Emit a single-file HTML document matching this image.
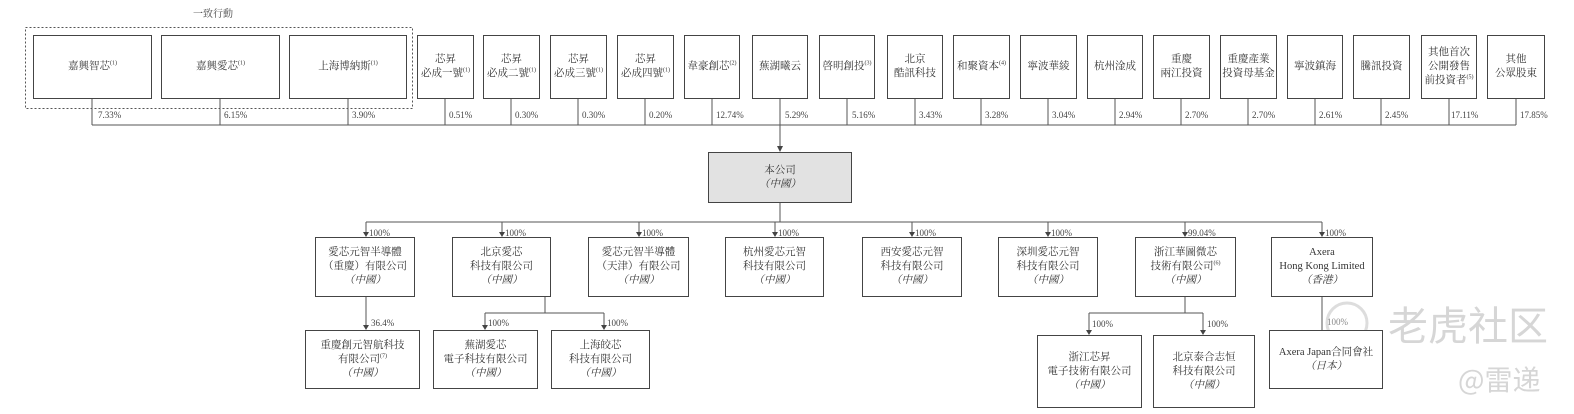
<!DOCTYPE html>
<html><head><meta charset="utf-8"><style>
body{margin:0;background:#fff;}
#c{position:relative;width:1574px;height:414px;overflow:hidden;font-family:"Liberation Serif","Noto Serif CJK SC",serif;color:#333;}
.b{position:absolute;box-sizing:border-box;border:1.4px solid #444;display:flex;align-items:center;justify-content:center;text-align:center;font-size:10.5px;line-height:14px;background:#fff;}
.b>span{display:block;white-space:nowrap;}
.p{position:absolute;font-size:9px;color:#444;white-space:nowrap;}
i{font-style:italic;}
sup{font-size:6px;line-height:0;}
</style></head><body><div id="c">
<svg width="1574" height="414" style="position:absolute;left:0;top:0">
<g stroke="#555" stroke-width="1" fill="none">
<rect x="25.5" y="27.5" width="387" height="81" stroke-dasharray="2,2"/>
<line x1="92" y1="99" x2="92" y2="125"/><line x1="220" y1="99" x2="220" y2="125"/><line x1="348" y1="99" x2="348" y2="125"/>
<line x1="445" y1="99" x2="445" y2="125"/><line x1="511" y1="99" x2="511" y2="125"/><line x1="578" y1="99" x2="578" y2="125"/><line x1="645" y1="99" x2="645" y2="125"/><line x1="712" y1="99" x2="712" y2="125"/>
<line x1="847" y1="99" x2="847" y2="125"/><line x1="915" y1="99" x2="915" y2="125"/><line x1="981" y1="99" x2="981" y2="125"/><line x1="1048" y1="99" x2="1048" y2="125"/><line x1="1115" y1="99" x2="1115" y2="125"/><line x1="1181" y1="99" x2="1181" y2="125"/><line x1="1248" y1="99" x2="1248" y2="125"/><line x1="1315" y1="99" x2="1315" y2="125"/><line x1="1381" y1="99" x2="1381" y2="125"/><line x1="1449" y1="99" x2="1449" y2="125"/><line x1="1516" y1="99" x2="1516" y2="125"/>
<line x1="92" y1="125" x2="1516" y2="125"/>
<line x1="780" y1="99" x2="780" y2="150"/>
<line x1="780" y1="203" x2="780" y2="222"/>
<line x1="366" y1="222" x2="1322" y2="222"/>
<line x1="366" y1="222" x2="366" y2="235"/><line x1="502" y1="222" x2="502" y2="235"/><line x1="639" y1="222" x2="639" y2="235"/><line x1="775" y1="222" x2="775" y2="235"/><line x1="912" y1="222" x2="912" y2="235"/><line x1="1048" y1="222" x2="1048" y2="235"/><line x1="1185" y1="222" x2="1185" y2="235"/><line x1="1322" y1="222" x2="1322" y2="235"/>
<line x1="366" y1="297" x2="366" y2="328"/>
<line x1="545" y1="297" x2="545" y2="313"/><line x1="485" y1="313" x2="604" y2="313"/><line x1="485" y1="313" x2="485" y2="328"/><line x1="604" y1="313" x2="604" y2="328"/>
<line x1="1185" y1="297" x2="1185" y2="313"/><line x1="1089" y1="313" x2="1203" y2="313"/><line x1="1089" y1="313" x2="1089" y2="333"/><line x1="1203" y1="313" x2="1203" y2="333"/>
<line x1="1322" y1="297" x2="1322" y2="330"/>
</g>
<g fill="#444">
<path d="M777 146 L783 146 L780 152Z"/>
<path d="M363 232 L369 232 L366 237Z"/><path d="M499 232 L505 232 L502 237Z"/><path d="M636 232 L642 232 L639 237Z"/><path d="M772 232 L778 232 L775 237Z"/><path d="M909 232 L915 232 L912 237Z"/><path d="M1045 232 L1051 232 L1048 237Z"/><path d="M1182 232 L1188 232 L1185 237Z"/><path d="M1319 232 L1325 232 L1322 237Z"/>
<path d="M363 325 L369 325 L366 330Z"/><path d="M482 325 L488 325 L485 330Z"/><path d="M601 325 L607 325 L604 330Z"/><path d="M1086 330 L1092 330 L1089 335Z"/><path d="M1200 330 L1206 330 L1203 335Z"/>
</g>
<circle cx="1347" cy="323" r="20" fill="none" stroke="#ddd" stroke-width="3"/>
<text x="1388" y="340" font-size="40" fill="#d6d6d6" font-family="Noto Sans CJK SC,sans-serif">老虎社区</text>
<text x="1458" y="390" font-size="28" fill="#d6d6d6" font-family="Noto Sans CJK SC,sans-serif">@雷递</text>
</svg>
<div class="p" style="left:193px;top:5px;font-size:10px">一致行動</div>
<div class="b" style="left:33px;top:35px;width:119px;height:64px"><span>嘉興智芯<sup>(1)</sup></span></div>
<div class="b" style="left:161px;top:35px;width:119px;height:64px"><span>嘉興愛芯<sup>(1)</sup></span></div>
<div class="b" style="left:289px;top:35px;width:118px;height:64px"><span>上海博納斯<sup>(1)</sup></span></div>
<div class="b" style="left:417px;top:35px;width:57px;height:64px"><span>芯昇<br>必成一號<sup>(1)</sup></span></div>
<div class="b" style="left:483px;top:35px;width:57px;height:64px"><span>芯昇<br>必成二號<sup>(1)</sup></span></div>
<div class="b" style="left:550px;top:35px;width:57px;height:64px"><span>芯昇<br>必成三號<sup>(1)</sup></span></div>
<div class="b" style="left:617px;top:35px;width:57px;height:64px"><span>芯昇<br>必成四號<sup>(1)</sup></span></div>
<div class="b" style="left:684px;top:35px;width:56px;height:64px"><span>韋豪創芯<sup>(2)</sup></span></div>
<div class="b" style="left:752px;top:35px;width:56px;height:64px"><span>蕪湖曦云</span></div>
<div class="b" style="left:819px;top:35px;width:56px;height:64px"><span>啓明創投<sup>(3)</sup></span></div>
<div class="b" style="left:887px;top:35px;width:56px;height:64px"><span>北京<br>酷訊科技</span></div>
<div class="b" style="left:953px;top:35px;width:57px;height:64px"><span>和聚資本<sup>(4)</sup></span></div>
<div class="b" style="left:1020px;top:35px;width:57px;height:64px"><span>寧波華綾</span></div>
<div class="b" style="left:1087px;top:35px;width:56px;height:64px"><span>杭州淦成</span></div>
<div class="b" style="left:1153px;top:35px;width:57px;height:64px"><span>重慶<br>兩江投資</span></div>
<div class="b" style="left:1220px;top:35px;width:57px;height:64px"><span>重慶產業<br>投資母基金</span></div>
<div class="b" style="left:1287px;top:35px;width:56px;height:64px"><span>寧波鎮海</span></div>
<div class="b" style="left:1353px;top:35px;width:57px;height:64px"><span>騰訊投資</span></div>
<div class="b" style="left:1421px;top:35px;width:56px;height:64px"><span>其他首次<br>公開發售<br>前投資者<sup>(5)</sup></span></div>
<div class="b" style="left:1487px;top:35px;width:58px;height:64px"><span>其他<br>公眾股東</span></div>
<div class="p" style="left:98px;top:110px">7.33%</div><div class="p" style="left:224px;top:110px">6.15%</div><div class="p" style="left:352px;top:110px">3.90%</div><div class="p" style="left:449px;top:110px">0.51%</div><div class="p" style="left:515px;top:110px">0.30%</div><div class="p" style="left:582px;top:110px">0.30%</div><div class="p" style="left:649px;top:110px">0.20%</div><div class="p" style="left:716px;top:110px">12.74%</div><div class="p" style="left:785px;top:110px">5.29%</div><div class="p" style="left:852px;top:110px">5.16%</div><div class="p" style="left:919px;top:110px">3.43%</div><div class="p" style="left:985px;top:110px">3.28%</div><div class="p" style="left:1052px;top:110px">3.04%</div><div class="p" style="left:1119px;top:110px">2.94%</div><div class="p" style="left:1185px;top:110px">2.70%</div><div class="p" style="left:1252px;top:110px">2.70%</div><div class="p" style="left:1319px;top:110px">2.61%</div><div class="p" style="left:1385px;top:110px">2.45%</div><div class="p" style="left:1451px;top:110px">17.11%</div><div class="p" style="left:1520px;top:110px">17.85%</div>
<div class="b" style="left:708px;top:152px;width:144px;height:51px;background:#e2e2e2"><span>本公司<br><i>（中國）</i></span></div>
<div class="p" style="left:369px;top:228px">100%</div><div class="p" style="left:505px;top:228px">100%</div><div class="p" style="left:642px;top:228px">100%</div><div class="p" style="left:778px;top:228px">100%</div><div class="p" style="left:915px;top:228px">100%</div><div class="p" style="left:1051px;top:228px">100%</div><div class="p" style="left:1188px;top:228px">99.04%</div><div class="p" style="left:1325px;top:228px">100%</div>
<div class="b" style="left:315px;top:237px;width:100px;height:60px"><span>愛芯元智半導體<br>（重慶）有限公司<br><i>（中國）</i></span></div>
<div class="b" style="left:452px;top:237px;width:99px;height:60px"><span>北京愛芯<br>科技有限公司<br><i>（中國）</i></span></div>
<div class="b" style="left:588px;top:237px;width:101px;height:60px"><span>愛芯元智半導體<br>（天津）有限公司<br><i>（中國）</i></span></div>
<div class="b" style="left:725px;top:237px;width:99px;height:60px"><span>杭州愛芯元智<br>科技有限公司<br><i>（中國）</i></span></div>
<div class="b" style="left:862px;top:237px;width:100px;height:60px"><span>西安愛芯元智<br>科技有限公司<br><i>（中國）</i></span></div>
<div class="b" style="left:998px;top:237px;width:100px;height:60px"><span>深圳愛芯元智<br>科技有限公司<br><i>（中國）</i></span></div>
<div class="b" style="left:1135px;top:237px;width:101px;height:60px"><span>浙江華圖微芯<br>技術有限公司<sup>(6)</sup><br><i>（中國）</i></span></div>
<div class="b" style="left:1271px;top:237px;width:102px;height:60px"><span>Axera<br>Hong Kong Limited<br><i>（香港）</i></span></div>
<div class="p" style="left:371px;top:318px">36.4%</div><div class="p" style="left:488px;top:318px">100%</div><div class="p" style="left:607px;top:318px">100%</div><div class="p" style="left:1092px;top:319px">100%</div><div class="p" style="left:1207px;top:319px">100%</div><div class="p" style="left:1327px;top:317px;color:#888">100%</div>
<div class="b" style="left:305px;top:330px;width:115px;height:59px"><span>重慶創元智航科技<br>有限公司<sup>(7)</sup><br><i>（中國）</i></span></div>
<div class="b" style="left:433px;top:330px;width:105px;height:59px"><span>蕪湖愛芯<br>電子科技有限公司<br><i>（中國）</i></span></div>
<div class="b" style="left:551px;top:330px;width:99px;height:59px"><span>上海皎芯<br>科技有限公司<br><i>（中國）</i></span></div>
<div class="b" style="left:1037px;top:335px;width:105px;height:73px"><span>浙江芯昇<br>電子技術有限公司<br><i>（中國）</i></span></div>
<div class="b" style="left:1153px;top:335px;width:102px;height:73px"><span>北京泰合志恒<br>科技有限公司<br><i>（中國）</i></span></div>
<div class="b" style="left:1269px;top:330px;width:114px;height:59px"><span>Axera Japan合同會社<br><i>（日本）</i></span></div>
</div></body></html>
